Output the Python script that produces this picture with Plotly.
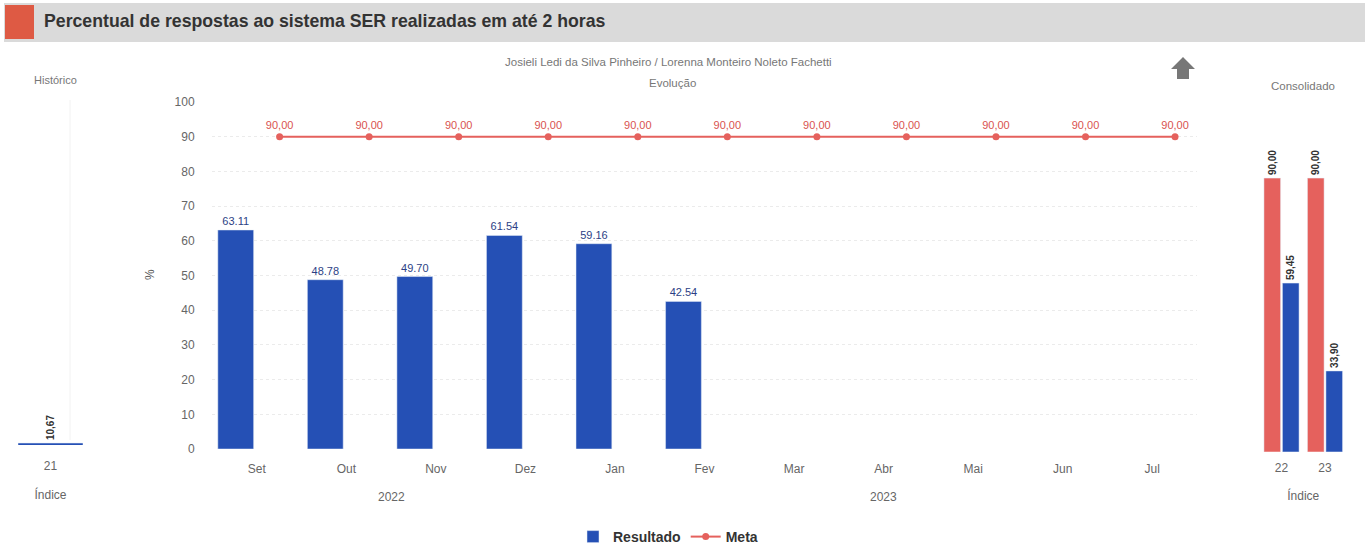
import plotly.graph_objects as go

W, H = 1369, 547

# ---- data ----
months = ["Set", "Out", "Nov", "Dez", "Jan", "Fev", "Mar", "Abr", "Mai", "Jun", "Jul"]
years = ["2022", "2022", "2022", "2022", "2023", "2023", "2023", "2023", "2023", "2023", "2023"]
resultado = [63.11, 48.78, 49.70, 61.54, 59.16, 42.54]
meta = [90.00] * 11

hist_cats = ["21"]
hist_vals = [10.67]

cons_cats = ["22", "23"]
cons_meta = [90.00, 90.00]
cons_result = [59.45, 33.90]

BLUE = "#2550b5"
RED = "#e5615d"
FONT = "Liberation Sans, Arial, sans-serif"


def px(x):
    return x / W


def py(y):
    return 1 - y / H


def br(v):
    return f"{v:.2f}".replace(".", ",")


idx = list(range(len(months)))
bar_x = [i - 0.235 for i in idx[:len(resultado)]]
meta_x = [i + 0.255 for i in idx]

fig = go.Figure()

# main chart
fig.add_trace(go.Bar(
    x=bar_x, y=resultado, width=0.4, name="Resultado", marker_color=BLUE,
    text=[f"{v:.2f}" for v in resultado], textposition="outside",
    textfont=dict(color="#2c3f85", size=11, family=FONT), cliponaxis=False,
    constraintext="none", xaxis="x", yaxis="y"))
fig.add_trace(go.Scatter(
    x=meta_x, y=meta, name="Meta", mode="lines+markers+text",
    line=dict(color=RED, width=2), marker=dict(color=RED, size=7),
    text=[br(v) for v in meta], textposition="top center",
    textfont=dict(color="#d9534f", size=11, family=FONT), cliponaxis=False,
    xaxis="x", yaxis="y"))

# historic panel
fig.add_trace(go.Bar(
    x=hist_cats, y=hist_vals, width=1, marker_color=BLUE, showlegend=False,
    text=[br(v) for v in hist_vals], textposition="outside", textangle=-90,
    textfont=dict(color="#333", size=10, family=FONT, weight="bold"),
    cliponaxis=False, constraintext="none", xaxis="x2", yaxis="y2"))

# consolidated panel
fig.add_trace(go.Bar(
    x=cons_cats, y=cons_meta, marker_color=RED, showlegend=False,
    text=[br(v) for v in cons_meta], textposition="outside", textangle=-90,
    textfont=dict(color="#333", size=10, family=FONT, weight="bold"),
    cliponaxis=False, constraintext="none", xaxis="x3", yaxis="y3"))
fig.add_trace(go.Bar(
    x=cons_cats, y=cons_result, marker_color=BLUE, showlegend=False,
    text=[br(v) for v in cons_result], textposition="outside", textangle=-90,
    textfont=dict(color="#333", size=10, family=FONT, weight="bold"),
    cliponaxis=False, constraintext="none", xaxis="x3", yaxis="y3"))

tickfont = dict(color="#666", size=12, family=FONT)

annotations = []
# year labels
for yr in sorted(set(years)):
    pos = [i for i, y in enumerate(years) if y == yr]
    annotations.append(dict(x=sum(pos) / len(pos), y=py(497), xref="x", yref="paper",
                            xanchor="center", yanchor="middle",
                            text=yr, showarrow=False, font=tickfont))


def note(x, y, text, size=12, color="#777", xanchor="center", **kw):
    return dict(x=px(x), y=py(y), xref="paper", yref="paper", xanchor=xanchor,
                yanchor="middle", text=text, showarrow=False,
                font=dict(color=color, size=size, family=FONT), **kw)


annotations += [
    note(42, 21, "<b>Percentual de respostas ao sistema SER realizadas em até 2 horas</b>",
         size=17.7, color="#333", xanchor="left"),
    note(668, 62, "Josieli Ledi da Silva Pinheiro / Lorenna Monteiro Noleto Fachetti",
         size=11.5),
    note(672, 83, "Evolução", size=11.5),
    note(55, 80, "Histórico", size=11),
    note(1303, 86, "Consolidado", size=11.5),
    note(150, 275, "%", size=12, color="#555", textangle=-90),
]

shapes = [
    dict(type="rect", xref="paper", yref="paper", x0=px(4), x1=px(1365), y0=py(42), y1=py(3),
         fillcolor="#dadada", line=dict(width=0), layer="below"),
    dict(type="rect", xref="paper", yref="paper", x0=px(5), x1=px(34), y0=py(39), y1=py(5),
         fillcolor="#de5a44", line=dict(width=0)),
    dict(type="path", xref="paper", yref="paper",
         path=(f"M {px(1183)} {py(57)} L {px(1195)} {py(69)} L {px(1189)} {py(69)} "
               f"L {px(1189)} {py(79)} L {px(1177)} {py(79)} L {px(1177)} {py(69)} "
               f"L {px(1171)} {py(69)} Z"),
         fillcolor="#777", line=dict(width=0)),
    dict(type="line", xref="paper", yref="paper", x0=px(70), x1=px(70), y0=py(440), y1=py(100),
         line=dict(color="#f2f2f2", width=1)),
]

fig.update_layout(
    width=W, height=H, margin=dict(l=0, r=0, t=0, b=0, autoexpand=False),
    paper_bgcolor="white", plot_bgcolor="white",
    font=dict(family=FONT),
    barmode="group", bargap=0.15, bargroupgap=0.1,
    showlegend=True,
    legend=dict(orientation="h", x=px(668), xanchor="center", y=py(537), yanchor="middle",
                font=dict(color="#333", size=14, family=FONT, weight="bold"),
                itemwidth=30),
    annotations=annotations, shapes=shapes,
    xaxis=dict(domain=[px(212), px(1197)], range=[-0.5, len(months) - 0.5],
               tickvals=idx, ticktext=months, showgrid=False, zeroline=False,
               ticks="outside", ticklen=9, tickcolor="rgba(0,0,0,0)", tickfont=tickfont,
               automargin=False, anchor="y"),
    yaxis=dict(domain=[py(449), py(102)], range=[0, 100], dtick=10,
               showgrid=True, gridcolor="#ebebeb", griddash="dot", zeroline=False,
               ticks="outside", ticklen=14, tickcolor="rgba(0,0,0,0)", tickfont=tickfont,
               automargin=False, anchor="x"),
    xaxis2=dict(domain=[px(18), px(83)], range=[-0.5, 0.5], showgrid=False,
                ticks="outside", ticklen=10, tickcolor="rgba(0,0,0,0)", tickfont=tickfont,
                title=dict(text="Índice", font=tickfont, standoff=18),
                automargin=False, anchor="y2"),
    yaxis2=dict(domain=[py(445), py(96)], range=[10.1, 112], visible=False,
                automargin=False, anchor="x2"),
    xaxis3=dict(domain=[px(1259.75), px(1346.75)], range=[-0.5, 1.5], showgrid=False,
                ticks="outside", ticklen=5, tickcolor="rgba(0,0,0,0)", tickfont=tickfont,
                title=dict(text="Índice", font=tickfont, standoff=17),
                automargin=False, anchor="y3"),
    yaxis3=dict(domain=[py(451.7), py(102.5)], range=[10.4, 112], visible=False,
                automargin=False, anchor="x3"),
)

fig.write_html("out.html", config={"displayModeBar": False},
               post_script="document.body.style.margin='0';document.body.style.overflow='hidden';")
